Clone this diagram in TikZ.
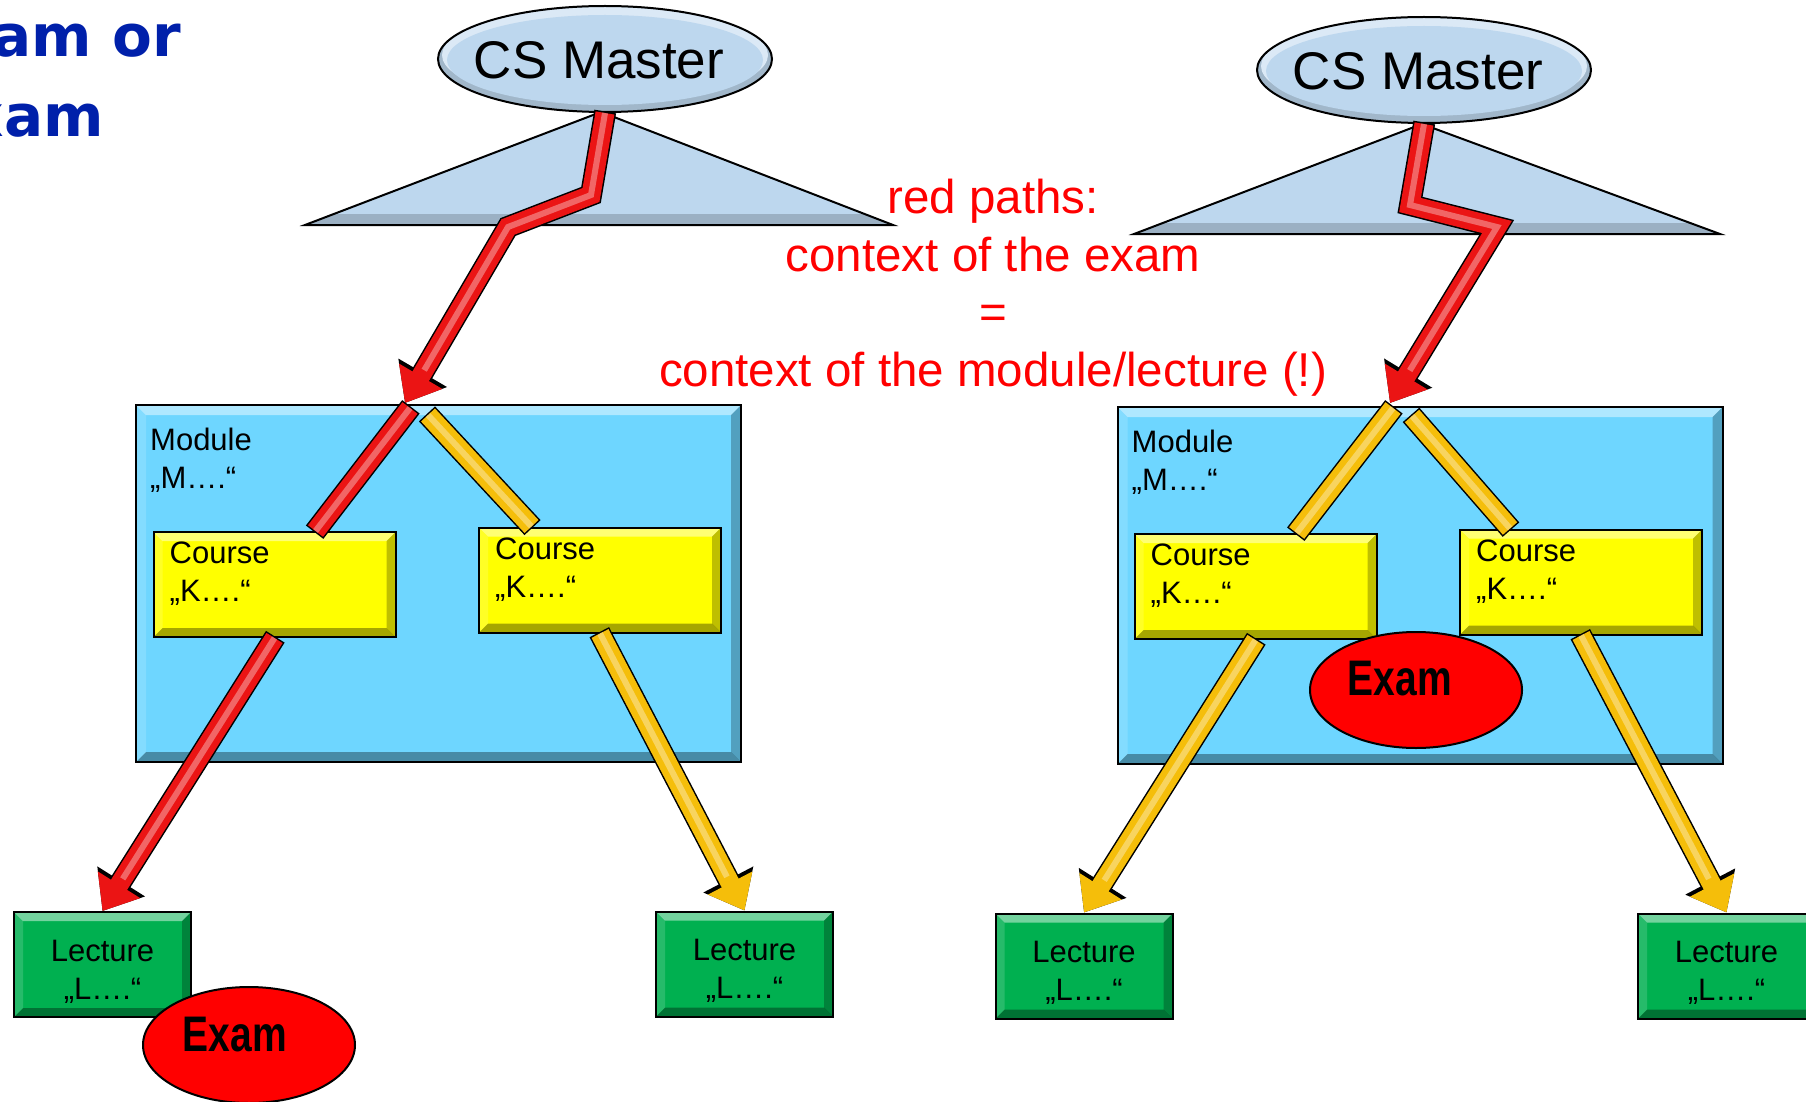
\documentclass[tikz,border=0pt]{standalone}
\usepackage{graphicx}
\usepackage{fontspec}
\setmainfont{Liberation Sans}
\newfontfamily\ttlfam{DejaVu Sans}
\usetikzlibrary{arrows.meta,shapes.geometric}

\definecolor{csblue}{RGB}{189,215,238}
\definecolor{modcyan}{RGB}{110,214,255}
\definecolor{courseyel}{RGB}{255,255,0}
\definecolor{lectgreen}{RGB}{0,176,80}
\definecolor{pathred}{RGB}{235,20,20}
\definecolor{pathgold}{RGB}{245,190,10}
\definecolor{titleblue}{RGB}{0,32,170}

\newcommand\lblfont{\fontsize{31}{38}\selectfont}
\newcommand\csfont{\fontsize{53}{60}\selectfont}
\newcommand\redfont{\fontsize{47.5}{57.5}\selectfont}
\newcommand\examfont{\bfseries\fontsize{50}{56}\selectfont}

\tikzset{
  bevel/.style={path picture={
    \coordinate (pnw) at (path picture bounding box.north west);
    \coordinate (pne) at (path picture bounding box.north east);
    \coordinate (psw) at (path picture bounding box.south west);
    \coordinate (pse) at (path picture bounding box.south east);
    \fill[white,opacity=.45] (pnw) -- (pne) -- ([shift={(-#1,-#1)}]pne) -- ([shift={(#1,-#1)}]pnw) -- cycle;
    \fill[black,opacity=.35] (psw) -- (pse) -- ([shift={(-#1,#1)}]pse) -- ([shift={(#1,#1)}]psw) -- cycle;
    \fill[black,opacity=.25] (pne) -- (pse) -- ([shift={(-#1,#1)}]pse) -- ([shift={(-#1,-#1)}]pne) -- cycle;
    \fill[white,opacity=.15] (pnw) -- (psw) -- ([shift={(#1,#1)}]psw) -- ([shift={(#1,-#1)}]pnw) -- cycle;
  }},
  box/.style={rectangle, draw=black, line width=2pt, inner sep=0pt},
  module/.style={box, fill=modcyan, minimum width=605pt, minimum height=357pt, bevel=10pt},
  course/.style={box, fill=courseyel, minimum width=242pt, minimum height=105pt, bevel=9pt},
  lecture/.style={box, fill=lectgreen, minimum width=177pt, minimum height=105pt, bevel=9pt},
  boxtxt/.style={anchor=north west, inner sep=0pt, align=left, font=\lblfont},
  lecttxt/.style={inner sep=0pt, align=center, font=\lblfont},
  master/.style={ellipse, draw=black, line width=2pt, fill=csblue, inner sep=0pt, minimum width=334pt, minimum height=106pt,
    path picture={
      \fill[black!15!csblue] (path picture bounding box.south west) rectangle (path picture bounding box.north east);
      \fill[white!45!csblue] ([yshift=4pt]path picture bounding box.center) ellipse (163pt and 48pt);
      \fill[csblue] ([yshift=-1pt]path picture bounding box.center) ellipse (158pt and 45pt);
    }},
  mastertxt/.style={inner sep=0pt, font=\csfont},
  tri/.style={draw=black, line width=2pt, fill=csblue,
    path picture={\fill[black!18!csblue] ([yshift=11pt]path picture bounding box.south west) rectangle (path picture bounding box.south east);}},
  exam/.style={ellipse, draw=black, line width=2pt, fill=red, minimum width=212pt, minimum height=116pt},
  examtxt/.style={font=\examfont, inner sep=0pt},
  redtxt/.style={text=red, font=\redfont, align=center, inner sep=0pt},
  ttl/.style={text=titleblue, font=\ttlfam\bfseries\fontsize{58}{70}\selectfont, inner sep=0pt},
  tube/.style={draw=#1, line width=19pt, line join=miter, -{Triangle[width=48pt,length=31pt]},
    preaction={draw=black, line width=22pt, shorten <=-1.5pt, -{Triangle[width=54pt,length=35pt]}},
    postaction={draw=white, opacity=.35, line width=6pt, -, shorten >=38pt}},
  bar/.style={draw=#1, line width=19pt,
    preaction={draw=black, line width=22pt, shorten <=-1.5pt, shorten >=-1.5pt},
    postaction={draw=white, opacity=.35, line width=6pt}}
}

\begin{document}
\begin{tikzpicture}[x=1pt,y=-1pt]
  \useasboundingbox (0,0) rectangle (1806,1102);

  % title, cut by the page edge
  \node[ttl, anchor=base east] (ttl1) at (181,57) {Exam or};
  \node[ttl, anchor=base east] (ttl2) at (104,137) {Exam};

  % programme trees
  \draw[tri] (601,112) -- (893,225) -- (305,225) -- cycle;
  \draw[tri] (1422,124) -- (1720,234) -- (1134,234) -- cycle;
  \node[master] (msL) at (605,59) {};
  \node[mastertxt] (msLt) at (599,60) {CS Master};
  \node[master] (msR) at (1424,70) {};
  \node[mastertxt] (msRt) at (1418,71) {CS Master};

  % modules
  \node[module] (mL) at (438.5,583.5) {};
  \node[boxtxt] (mLt) at ([shift={(15pt,-24pt)}]mL.north west) {Module\\„M….“};
  \node[module] (mR) at (1420,585.5) {};
  \node[boxtxt] (mRt) at ([shift={(15pt,-24pt)}]mR.north west) {Module\\„M….“};

  % courses
  \node[course] (cL1) at (274.5,584.5) {};
  \node[course] (cL2) at (600,580) {};
  \node[course] (cR1) at (1255.5,586.5) {};
  \node[course] (cR2) at (1581,582) {};
  \foreach \c in {cL1,cL2,cR1,cR2}
    \node[boxtxt] (\c t) at ([shift={(17pt,-11pt)}]\c.north west) {Course\\„K….“};

  % lectures
  \node[lecture] (lL1) at (102.5,964.5) {};
  \node[lecture] (lL2) at (744.5,964) {};
  \node[lecture] (lR1) at (1084,966) {};
  \node[lecture] (lR2) at (1726.5,966) {};
  \foreach \l in {lL1,lL2,lR1,lR2}
    \node[lecttxt] (\l t) at ([yshift=-7pt]\l.center) {Lecture\\„L….“};

  % bends and joints of the paths
  \coordinate (kL1) at (591,195);
  \coordinate (kL2) at (508,227);
  \coordinate (tL) at (405,403);
  \coordinate (jL1) at (410,408);
  \coordinate (jL2) at (428,415);
  \coordinate (kR1) at (1410,205);
  \coordinate (kR2) at (1497,227);
  \coordinate (tR) at (1390,403);
  \coordinate (jR1) at (1393,408);
  \coordinate (jR2) at (1412,416);

  % left: exam belongs to a lecture
  \draw[tube=pathred] (msL.south) -- (kL1) -- (kL2) -- (tL);
  \draw[bar=pathred] (jL1) -- (cL1);
  \draw[bar=pathgold] (jL2) -- (cL2.142);
  \draw[tube=pathred] (cL1.south) -- (lL1.north);
  \draw[tube=pathgold] (cL2.south) -- (lL2.north);

  % right: exam belongs to the module
  \draw[tube=pathred] (msR.south) -- (kR1) -- (kR2) -- (tR);
  \draw[bar=pathgold] (jR1) -- (cR1);
  \draw[bar=pathgold] (jR2) -- (cR2.143);
  \draw[tube=pathgold] (cR1.south) -- (lR1.north);
  \draw[tube=pathgold] (cR2.south) -- (lR2.north);

  % exams
  \node[exam] (exL) at (249,1045) {};
  \node[examtxt] (exLt) at ([shift={(-14pt,10pt)}]exL.center) {\scalebox{.78}[1]{Exam}};
  \node[exam] (exR) at (1416,690) {};
  \node[examtxt] (exRt) at ([shift={(-16pt,11pt)}]exR.center) {\scalebox{.78}[1]{Exam}};

  \node[redtxt, anchor=north] (ctx) at (993,179)
    {red paths:\\context of the exam\\=\\context of the module/lecture (!)};
\end{tikzpicture}
\end{document}
